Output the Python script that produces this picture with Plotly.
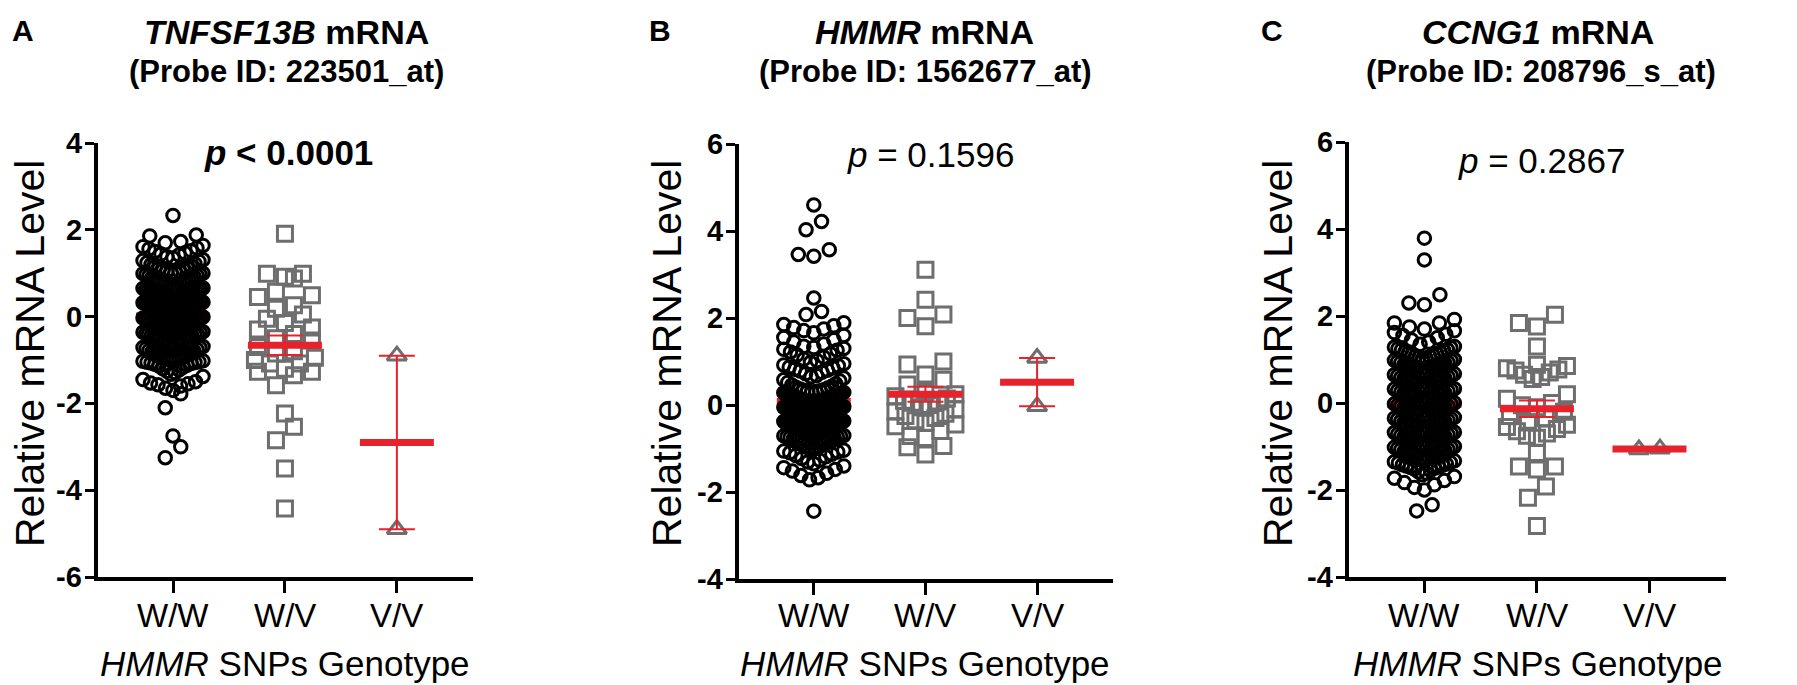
import numpy as np
import plotly.graph_objects as go

W, H = 1797, 685
FONT = "Liberation Sans, Arial, sans-serif"
RED = "#E8222A"
GRAY = "#6E6E6E"

categories = ["W/W", "W/V", "V/V"]
panel_letters = ["A", "B", "C"]
genes = ["TNFSF13B", "HMMR", "CCNG1"]
probes = ["223501_at", "1562677_at", "208796_s_at"]
p_texts = ["<b><i>p</i> &lt; 0.0001</b>", "<i>p</i> = 0.1596", "<i>p</i> = 0.2867"]
y_ranges = [[-6, 4], [-4, 6], [-4, 6]]
y_ticks = [[-6, -4, -2, 0, 2, 4], [-4, -2, 0, 2, 4, 6], [-4, -2, 0, 2, 4, 6]]

# ---------------- Panel A : TNFSF13B ----------------
A_WW = [2.33, 1.88, 1.86, 1.73, 1.70,
        1.64, 1.61, 1.58, 1.56, 1.52, 1.50, 1.47, 1.44, 1.42, 1.38, 1.35, 1.31,
        1.29, 1.27, 1.24, 1.22, 1.20, 1.17, 1.15, 1.13, 1.11, 1.09, 1.07, 1.05, 1.04, 1.02, 1.01, 1.00,
        0.99, 0.97, 0.96, 0.94, 0.93, 0.91, 0.89, 0.88, 0.86, 0.85, 0.83, 0.82, 0.80, 0.79, 0.77, 0.76, 0.74,
        0.72, 0.71, 0.69, 0.68, 0.66, 0.65, 0.63, 0.61, 0.60, 0.58, 0.57, 0.55, 0.54, 0.53, 0.52, 0.51, 0.50,
        0.49, 0.48, 0.47, 0.46, 0.45, 0.44, 0.43, 0.42, 0.41, 0.40, 0.38, 0.37, 0.36, 0.35, 0.34, 0.33, 0.32,
        0.31, 0.30, 0.28, 0.27, 0.26, 0.25, 0.24, 0.23, 0.22, 0.21, 0.20, 0.18, 0.17, 0.16, 0.15, 0.14, 0.13,
        0.12, 0.11, 0.10, 0.08, 0.07, 0.06, 0.05, 0.04, 0.02, 0.01,
        -0.01, -0.03, -0.04, -0.05, -0.07, -0.08, -0.09, -0.11, -0.12, -0.13, -0.15, -0.16, -0.17, -0.19, -0.20,
        -0.21, -0.23, -0.24, -0.25, -0.27, -0.28, -0.29, -0.31, -0.32, -0.33, -0.35, -0.36, -0.37, -0.39, -0.40,
        -0.41, -0.42, -0.44, -0.45, -0.46, -0.47, -0.48, -0.49,
        -0.51, -0.53, -0.55, -0.57, -0.58, -0.60, -0.62, -0.64, -0.65, -0.67, -0.69, -0.71, -0.72, -0.74, -0.76,
        -0.78, -0.80, -0.81, -0.83, -0.85, -0.87, -0.88, -0.90, -0.92, -0.94, -0.95, -0.96, -0.97, -0.98, -0.99,
        -1.00, -1.02, -1.03, -1.04, -1.05, -1.06, -1.07, -1.08, -1.10, -1.12, -1.14, -1.17, -1.20, -1.23, -1.26, -1.29,
        -1.33, -1.38, -1.45, -1.50, -1.53, -1.55, -1.57, -1.60, -1.65, -1.70, -1.78,
        -2.10, -2.75, -3.00, -3.25]
A_WV = [1.91, 0.99, 0.92, 0.88, 0.99, 0.57, 0.49, 0.45, 0.26, 0.18, 0.05,
        -0.05, -0.15, -0.25, -0.30, -0.40, -0.50, -0.55, -0.70, -0.80, -0.85, -0.95,
        -1.08, -1.08, -1.00, -1.20, -1.27, -1.27, -1.35, -1.58,
        -2.23, -2.54, -2.85, -3.50, -4.42]
A_VV = [-0.90, -4.90]

# ---------------- Panel B : HMMR ----------------
B_WW = [4.60, 4.22, 4.03, 3.57, 3.46, 3.42, 2.46, 2.15, 2.08, 1.89,
        1.85, 1.82, 1.78, 1.75, 1.71, 1.66, 1.60, 1.55, 1.50, 1.45, 1.40, 1.35, 1.32, 1.30,
        1.28, 1.26, 1.22, 1.18, 1.15, 1.10, 1.05, 1.02, 0.98, 0.95, 0.92, 0.90, 0.87, 0.85, 0.82, 0.80,
        0.78, 0.75, 0.72, 0.68, 0.65, 0.62, 0.58, 0.55, 0.52, 0.49, 0.46, 0.43, 0.41, 0.39, 0.37, 0.35,
        0.34, 0.33, 0.32, 0.31, 0.30, 0.29, 0.28, 0.27, 0.26, 0.25,
        0.24, 0.23, 0.22, 0.21, 0.20, 0.19, 0.18, 0.17, 0.16, 0.15,
        0.14, 0.13, 0.12, 0.11, 0.10, 0.09, 0.08, 0.07, 0.06, 0.05,
        0.04, 0.03, 0.02, 0.01, 0.00, -0.01, -0.02, -0.03, -0.04, -0.05,
        -0.06, -0.07, -0.08, -0.09, -0.10, -0.11, -0.12, -0.13, -0.14, -0.15,
        -0.16, -0.17, -0.18, -0.19, -0.20, -0.21, -0.22, -0.23, -0.24, -0.25,
        -0.26, -0.27, -0.28, -0.29, -0.30, -0.31, -0.32, -0.33, -0.34, -0.35,
        -0.36, -0.37, -0.38, -0.39, -0.40, -0.41, -0.42, -0.43, -0.44, -0.45,
        -0.46, -0.47, -0.48, -0.49, -0.50, -0.51, -0.52, -0.53, -0.54, -0.55,
        -0.56, -0.57, -0.58, -0.59, -0.60, -0.61, -0.62, -0.63, -0.64, -0.65,
        -0.66, -0.67, -0.68, -0.69, -0.70, -0.71, -0.72, -0.73, -0.74, -0.75,
        -0.76, -0.78, -0.80, -0.82, -0.84,
        -0.86, -0.88, -0.90, -0.92, -0.94, -0.96, -0.98, -1.00, -1.02, -1.04, -1.06, -1.08, -1.10, -1.13, -1.16, -1.19,
        -1.23, -1.27, -1.31, -1.35, -1.40, -1.44, -1.48, -1.52, -1.57, -1.62, -1.67, -1.72,
        -2.44]
B_WV = [3.11, 2.42, 2.08, 2.00, 1.81, 1.00, 0.93, 0.70, 0.58, 0.47,
        0.30, 0.25, 0.20, 0.15, 0.10, 0.08, 0.05, 0.00, -0.05, -0.10, -0.15, -0.20, -0.25, -0.30, -0.35,
        -0.41, -0.45, -0.49, -0.60, -0.71, -0.76, -0.94, -0.97, -1.14]
B_VV = [1.08, -0.03]

# ---------------- Panel C : CCNG1 ----------------
C_WW = [3.79, 3.29, 2.49, 2.30, 2.26, 1.92, 1.84, 1.84,
        1.75, 1.70, 1.66, 1.62, 1.58, 1.55, 1.50, 1.45, 1.40, 1.35,
        1.30, 1.28, 1.27, 1.25, 1.23, 1.22, 1.20, 1.18, 1.17, 1.15,
        1.13, 1.12, 1.10, 1.08, 1.07, 1.05, 1.03, 1.02, 1.00, 0.98,
        0.97, 0.95, 0.93, 0.92, 0.90, 0.88, 0.87, 0.85, 0.83, 0.82,
        0.80, 0.78, 0.77, 0.75, 0.73, 0.72, 0.70, 0.68, 0.67, 0.65,
        0.63, 0.62, 0.60, 0.58, 0.57, 0.55, 0.53, 0.52, 0.50, 0.48,
        0.47, 0.45, 0.43, 0.42, 0.40, 0.38, 0.37, 0.35, 0.33, 0.32,
        0.30, 0.28, 0.27, 0.25, 0.23, 0.22, 0.20, 0.18, 0.17, 0.15,
        0.13, 0.12, 0.10, 0.08, 0.07, 0.05, 0.03, 0.02, 0.00, -0.02,
        -0.03, -0.05, -0.07, -0.08, -0.10, -0.12, -0.13, -0.15, -0.17, -0.18,
        -0.20, -0.22, -0.23, -0.25, -0.27, -0.28, -0.30, -0.32, -0.33, -0.35,
        -0.37, -0.38, -0.40, -0.42, -0.43, -0.45, -0.47, -0.48, -0.50, -0.52,
        -0.53, -0.55, -0.57, -0.58, -0.60, -0.62, -0.63, -0.65, -0.67, -0.68,
        -0.70, -0.72, -0.73, -0.75, -0.77, -0.78, -0.80, -0.82, -0.83, -0.85,
        -0.87, -0.88, -0.90, -0.92, -0.93, -0.95, -0.97, -0.98, -1.00, -1.02,
        -1.03, -1.05, -1.07, -1.08, -1.10, -1.12, -1.13, -1.15, -1.17, -1.18,
        -1.20, -1.22, -1.23, -1.25, -1.27, -1.28, -1.30, -1.32, -1.33, -1.35,
        -1.37, -1.38, -1.40, -1.42, -1.43, -1.45, -1.47, -1.48, -1.50,
        -1.52, -1.55, -1.58, -1.61, -1.65, -1.69, -1.73, -1.78, -1.83, -1.88, -1.94, -2.00,
        -2.34, -2.48]
C_WV = [2.03, 1.84, 1.76, 1.30, 0.88, 0.85, 0.80, 0.77, 0.75, 0.70, 0.65, 0.60, 0.55,
        0.20, 0.10, 0.00, -0.05, -0.10, -0.20, -0.30, -0.35, -0.45, -0.50, -0.55, -0.60,
        -0.65, -0.70, -0.75, -0.80, -1.15, -1.46, -1.46, -1.53, -1.92, -2.18, -2.83]
C_VV = [-1.07, -1.05]

panel_data = [[A_WW, A_WV, A_VV], [B_WW, B_WV, B_VV], [C_WW, C_WV, C_VV]]

# ---------------- layout geometry (pixels) ----------------
x_dom_px = [(90, 465), (731, 1105), (1341, 1718)]
y_dom_px = [(135, 569), (136, 571), (134, 569)]   # top, bottom (from top of page)
X_RANGE = [-0.67, 2.68]

symbols = ["circle-open", "square-open", "triangle-up-open"]
colors = ["#000000", GRAY, GRAY]
msizes = [12.5, 15, 17]
coll = [15.5, 18, 21]   # marker spacing in px
MEAN_LEN = 74           # px length of the mean bar
LINE_SYMBOL_SCALE = 1.4  # plotly draws line-ew with half-length 1.4*size/2


def row_offsets(values, px_per_y, d, h, maxw):
    """Scatter-dot-plot layout: group values into rows of height h (px),
    spread each row horizontally (centre-out), compressing crowded rows."""
    vals = np.asarray(values, float)
    order = np.argsort(vals, kind="stable")
    ys = vals * px_per_y
    rows, cur, start = [], [], None
    for i in order:
        if cur and ys[i] - start > h:
            rows.append(cur)
            cur = []
        if not cur:
            start = ys[i]
        cur.append(i)
    if cur:
        rows.append(cur)
    xs = np.zeros(len(vals))
    for r in rows:
        n = len(r)
        if n == 1:
            continue
        s = min(d, 2 * maxw / (n - 1))
        slots = (np.arange(n) - (n - 1) / 2) * s
        slot_order = sorted(range(n), key=lambda j: (round(abs(slots[j]), 6), slots[j]))
        for k, i in enumerate(r):
            xs[i] = slots[slot_order[k]]
    return xs


fig = go.Figure()
layout = dict(width=W, height=H, autosize=False, plot_bgcolor="white", paper_bgcolor="white",
              margin=dict(l=0, r=0, t=0, b=0), showlegend=False,
              font=dict(family=FONT, color="black"))
annotations = []


def ann(text, xpx, ypx, size, angle=0, xanchor="center"):
    annotations.append(dict(text=text, x=xpx / W, y=1 - ypx / H, xref="paper", yref="paper",
                            xanchor=xanchor, yanchor="middle", showarrow=False, textangle=angle,
                            font=dict(family=FONT, size=size, color="black")))


title_x = [278, 916, 1530]
sub_x = [278, 917, 1533]
p_pos = [(280, 145), (922, 146), (1533, 152)]
letter_x = [15, 652, 1264]
ytitle_x = [22, 659, 1270]
xtitle_x = [277, 917, 1530]

for p in range(3):
    xa = "x" if p == 0 else f"x{p + 1}"
    ya = "y" if p == 0 else f"y{p + 1}"
    x0, x1 = x_dom_px[p]
    yt, yb = y_dom_px[p]
    px_per_x = (x1 - x0) / (X_RANGE[1] - X_RANGE[0])
    px_per_y = (yb - yt) / (y_ranges[p][1] - y_ranges[p][0])

    def mean_trace(k, vals):
        v = np.asarray(vals, float)
        m = v.mean()
        sem = v.std(ddof=1) / np.sqrt(len(v))
        return go.Scatter(x=[k], y=[m], xaxis=xa, yaxis=ya, mode="markers", hoverinfo="skip",
                          marker=dict(symbol="line-ew", size=MEAN_LEN / LINE_SYMBOL_SCALE, color=RED,
                                      line=dict(color=RED, width=7)),
                          error_y=dict(type="data", array=[sem], color=RED, thickness=2, width=18))

    fig.add_trace(mean_trace(0, panel_data[p][0]))
    for k in range(3):
        vals = panel_data[p][k]
        offs = row_offsets(vals, px_per_y, coll[k], 14.0, 30.0)
        fig.add_trace(go.Scatter(x=k + offs / px_per_x, y=vals, xaxis=xa, yaxis=ya, mode="markers",
                                 marker=dict(symbol=symbols[k], size=msizes[k], color=colors[k],
                                             line=dict(color=colors[k], width=3)),
                                 hoverinfo="y"))
    fig.add_trace(mean_trace(1, panel_data[p][1]))
    fig.add_trace(mean_trace(2, panel_data[p][2]))

    xkey = "xaxis" if p == 0 else f"xaxis{p + 1}"
    ykey = "yaxis" if p == 0 else f"yaxis{p + 1}"
    layout[xkey] = dict(domain=[x0 / W, x1 / W], anchor=ya, range=X_RANGE, tickvals=[0, 1, 2],
                        showticklabels=False, showline=True, linewidth=3.5, linecolor="black",
                        ticks="outside", ticklen=12, tickwidth=3, tickcolor="black",
                        showgrid=False, zeroline=False, fixedrange=True)
    layout[ykey] = dict(domain=[1 - yb / H, 1 - yt / H], anchor=xa, range=y_ranges[p],
                        tickvals=y_ticks[p], showticklabels=False, showline=True, linewidth=3.5,
                        linecolor="black", ticks="outside", ticklen=9, tickwidth=3, tickcolor="black",
                        showgrid=False, zeroline=False, fixedrange=True)

    # tick labels placed at the axis values
    for k, c in enumerate(categories):
        annotations.append(dict(text=c, x=k, xref=xa, y=1 - 607 / H, yref="paper",
                                xanchor="center", yanchor="middle", showarrow=False,
                                font=dict(family=FONT, size=33, color="black")))
    for t in y_ticks[p]:
        annotations.append(dict(text=f"<b>{t}</b>", x=(x0 - 14) / W, xref="paper", y=t, yref=ya,
                                xanchor="right", yanchor="middle", showarrow=False,
                                font=dict(family=FONT, size=29, color="black")))

    ann(f"<b>{panel_letters[p]}</b>", letter_x[p], 22, 30)
    ann(f"<b><i>{genes[p]}</i> mRNA</b>", title_x[p], 24, 34)
    ann(f"<b>(Probe ID: {probes[p]})</b>", sub_x[p], 63, 31)
    ann(p_texts[p], p_pos[p][0], p_pos[p][1], 35)
    ann("Relative mRNA Level", ytitle_x[p], 346, 41, angle=-90)
    ann("<i>HMMR</i> SNPs Genotype", xtitle_x[p], 655, 35)

layout["annotations"] = annotations
fig.update_layout(**layout)
fig.write_html("out.html")
